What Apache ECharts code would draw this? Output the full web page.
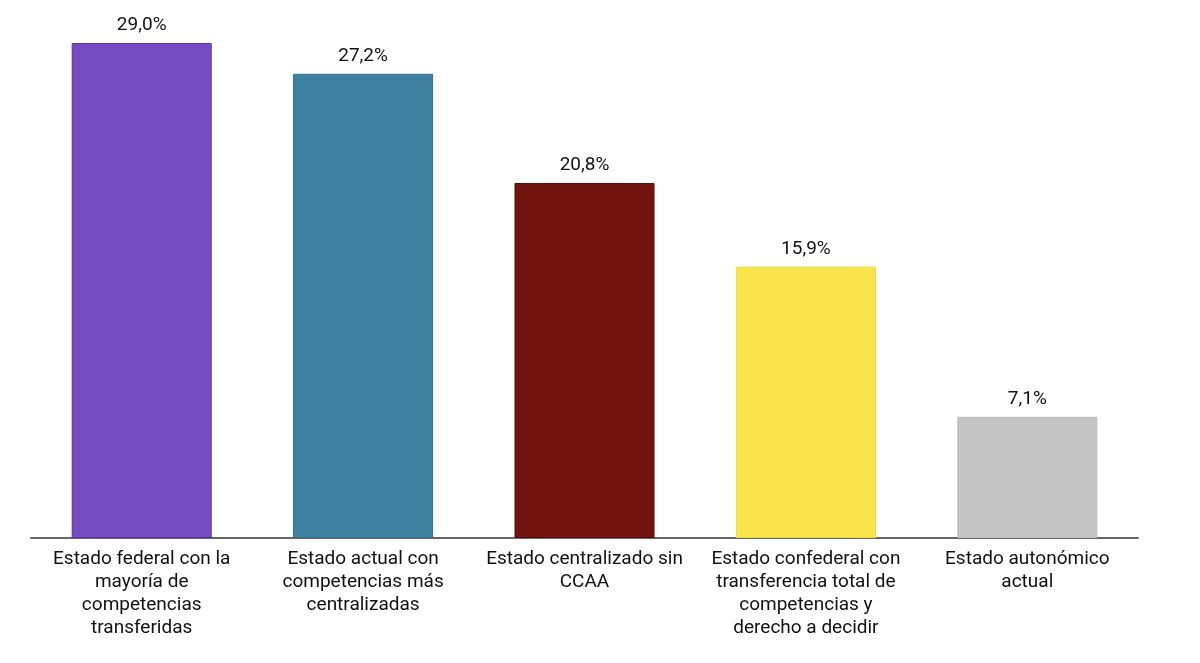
<!DOCTYPE html>
<html>
<head>
<meta charset="utf-8">
<script src="https://cdn.jsdelivr.net/npm/echarts@6/dist/echarts.min.js"></script>
<style>
  html, body { margin: 0; padding: 0; background: #fff; }
  #chart { width: 1200px; height: 663px; }
</style>
</head>
<body>
<div id="chart"></div>
<script>
// categorías (con saltos de línea como en el original)
var categories = [
  'Estado federal con la\nmayoría de\ncompetencias\ntransferidas',
  'Estado actual con\ncompetencias más\ncentralizadas',
  'Estado centralizado sin\nCCAA',
  'Estado confederal con\ntransferencia total de\ncompetencias y\nderecho a decidir',
  'Estado autonómico\nactual'
];
var values = [29.0, 27.2, 20.8, 15.9, 7.1];
var colors = ['#774cc1', '#3f81a0', '#70140d', '#f9e44b', '#c4c4c4'];
var borders = ['#5a2fa8', '#2f6f8e', '#5a0c07', '#f0d83a', '#bdbdbd'];

var chart = echarts.init(document.getElementById('chart'));

chart.setOption({
  animation: false,
  textStyle: { fontFamily: 'Roboto' },
  grid: { left: 31, right: 62, top: 26, bottom: 125 },
  xAxis: {
    type: 'category',
    data: categories,
    axisLine: { lineStyle: { color: '#666', width: 2 } },
    axisTick: { show: false },
    axisLabel: {
      interval: 0,
      margin: 10,
      fontSize: 19,
      lineHeight: 23,
      color: '#111',
      align: 'center'
    }
  },
  yAxis: {
    type: 'value',
    min: 0,
    max: 30,
    show: false,
    splitLine: { show: false }
  },
  series: [{
    type: 'bar',
    barWidth: 140,
    data: values.map(function (v, i) {
      return {
        value: v,
        itemStyle: { color: colors[i], borderColor: borders[i], borderWidth: 1 }
      };
    }),
    label: {
      show: true,
      position: 'top',
      distance: 8,
      fontSize: 19,
      color: '#111',
      formatter: function (p) {
        return p.value.toFixed(1).replace('.', ',') + '%';
      }
    }
  }]
});
</script>
</body>
</html>
